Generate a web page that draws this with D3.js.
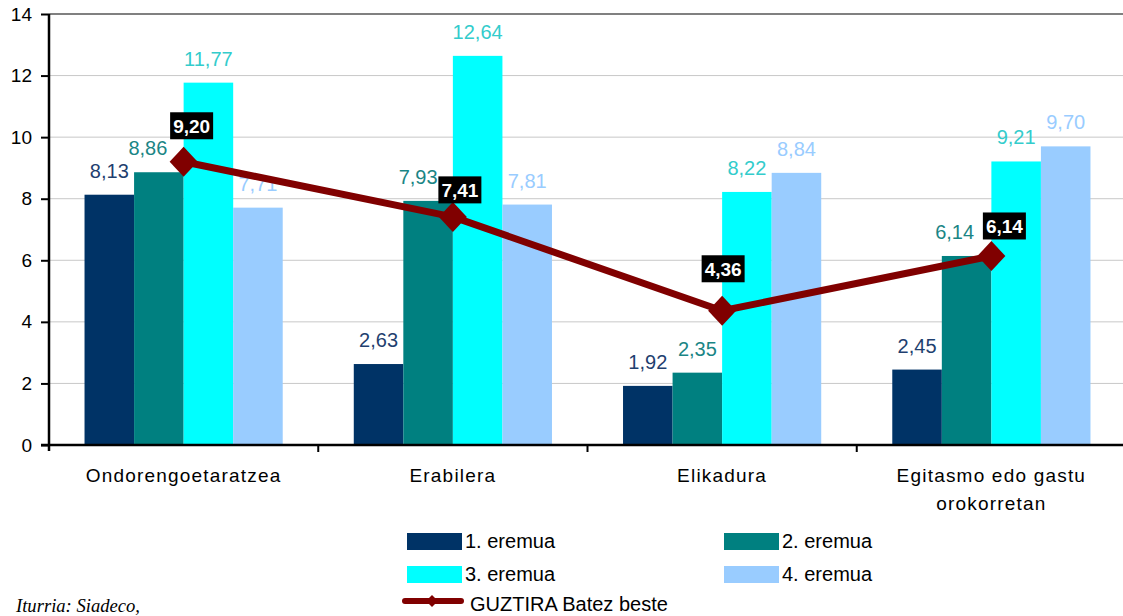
<!DOCTYPE html>
<html><head><meta charset="utf-8">
<script src="https://cdn.jsdelivr.net/npm/d3@7"></script>
<style>body{margin:0;background:#fff}svg{display:block}</style>
</head><body>
<svg id="c" width="1123" height="616"></svg>
<script>
const categories = [["Ondorengoetaratzea"], ["Erabilera"], ["Elikadura"], ["Egitasmo edo gastu", "orokorretan"]];
const seriesNames = ["1. eremua", "2. eremua", "3. eremua", "4. eremua"];
const series1 = [8.13, 2.63, 1.92, 2.45];
const series2 = [8.86, 7.93, 2.35, 6.14];
const series3 = [11.77, 12.64, 8.22, 9.21];
const series4 = [7.71, 7.81, 8.84, 9.70];
const total = [9.20, 7.41, 4.36, 6.14];
const totalName = "GUZTIRA Batez beste";
const yTicks = [0, 2, 4, 6, 8, 10, 12, 14];
const source = "Iturria: Siadeco,";

// layout tweaks for labels (pixels), as placed in the original chart
const totalLabelShift = [[8, -36], [7, -27], [1, -42], [13, -30]];
const series2LabelDx = [-11, -10, 0, -12];

const barColors = ["#003366", "#008080", "#00FFFF", "#99CCFF"];
const labelColors = ["#1F3F6F", "#1A8585", "#33CCCC", "#99CCFF"];
const lineColor = "#800000";
const allSeries = [series1, series2, series3, series4];

const svg = d3.select("#c");
const font = "Liberation Sans, Arial, sans-serif";
const L = 49, R = 1126, T = 14, B = 445;
const idx = d3.range(categories.length);
const x = d3.scaleBand().domain(idx).range([L, R]).paddingInner(0).paddingOuter(0);
const y = d3.scaleLinear().domain([0, 14]).range([B, T]);
const inner = d3.scaleBand().domain(d3.range(4)).range([0, x.bandwidth()]).paddingOuter(0.717).paddingInner(0);

// gridlines
svg.append("g").selectAll("line").data(yTicks.filter(t => t > 0)).join("line")
  .attr("x1", L).attr("x2", 1123).attr("y1", d => y(d)).attr("y2", d => y(d))
  .attr("stroke", d => d === 14 ? "#808080" : "#c8c8c8")
  .attr("stroke-width", d => d === 14 ? 2 : 1);

// bars
allSeries.forEach((s, si) => {
  svg.append("g").selectAll("rect").data(s).join("rect")
    .attr("x", (d, i) => x(i) + inner(si))
    .attr("width", inner.bandwidth())
    .attr("y", d => y(d))
    .attr("height", d => B - y(d))
    .attr("fill", barColors[si]);
});
// bar labels
allSeries.forEach((s, si) => {
  svg.append("g").selectAll("text").data(s).join("text")
    .attr("x", (d, i) => x(i) + inner(si) + inner.bandwidth() / 2 + (si === 1 ? series2LabelDx[i] : 0))
    .attr("y", d => y(d) - 17)
    .attr("text-anchor", "middle")
    .attr("font-family", font).attr("font-size", 20)
    .attr("fill", labelColors[si])
    .text(d => d.toFixed(2).replace(".", ","));
});

// axes
const yAxis = d3.axisLeft(y).tickValues(yTicks).tickSize(8).tickPadding(9).tickFormat(d => d);
const gy = svg.append("g").attr("transform", `translate(${L},0)`).call(yAxis);
gy.select(".domain").attr("stroke", "#000").attr("stroke-width", 2.5).attr("d", `M0,${T}V${B + 6}`);
gy.selectAll(".tick line").attr("stroke", "#000").attr("stroke-width", 2);
gy.selectAll(".tick text").attr("font-family", font).attr("font-size", 19).attr("fill", "#000");

svg.append("line").attr("x1", L - 8).attr("x2", 1123).attr("y1", B).attr("y2", B)
  .attr("stroke", "#000").attr("stroke-width", 2.5);
svg.append("g").selectAll("line").data(idx.slice(1)).join("line")
  .attr("x1", d => x(d)).attr("x2", d => x(d)).attr("y1", B).attr("y2", B + 7)
  .attr("stroke", "#000").attr("stroke-width", 2);

// category labels
svg.append("g").selectAll("text").data(categories).join("text")
  .attr("x", (d, i) => x(i) + x.bandwidth() / 2)
  .attr("y", 482)
  .attr("text-anchor", "middle")
  .attr("font-family", font).attr("font-size", 19).attr("letter-spacing", 1.2).attr("fill", "#000")
  .each(function (d) {
    d3.select(this).selectAll("tspan").data(d).join("tspan")
      .attr("x", d3.select(this).attr("x"))
      .attr("dy", (t, j) => j === 0 ? 0 : 28)
      .text(t => t);
  });

// line
const cx = i => x(i) + x.bandwidth() / 2;
const line = d3.line().x((d, i) => cx(i)).y(d => y(d));
svg.append("path").datum(total).attr("d", line)
  .attr("fill", "none").attr("stroke", lineColor).attr("stroke-width", 7).attr("stroke-linejoin", "round");
svg.append("g").selectAll("path").data(total).join("path")
  .attr("transform", (d, i) => `translate(${cx(i)},${y(d)})`)
  .attr("d", "M0,-15L14,0L0,15L-14,0Z")
  .attr("fill", lineColor);
// line labels
const lg = svg.append("g").selectAll("g").data(total).join("g")
  .attr("transform", (d, i) => `translate(${cx(i) + totalLabelShift[i][0]},${y(d) + totalLabelShift[i][1]})`);
lg.append("rect").attr("x", -21.5).attr("y", -13.5).attr("width", 43).attr("height", 27).attr("fill", "#000");
lg.append("text").attr("text-anchor", "middle").attr("y", 7)
  .attr("font-family", font).attr("font-size", 19).attr("font-weight", "bold").attr("fill", "#fff")
  .text(d => d.toFixed(2).replace(".", ","));

// legend
const legItems = seriesNames.map((n, i) => ({ n, i }));
const lgd = svg.append("g").selectAll("g").data(legItems).join("g")
  .attr("transform", d => `translate(${d.i % 2 === 0 ? 407 : 724},${d.i < 2 ? 533 : 566})`);
lgd.append("rect").attr("width", 55).attr("height", 17).attr("fill", d => barColors[d.i]);
lgd.append("text").attr("x", 58).attr("y", 15)
  .attr("font-family", font).attr("font-size", 20).attr("fill", "#000").text(d => d.n);
const lt = svg.append("g").attr("transform", "translate(403,601)");
lt.append("line").attr("x1", 2).attr("x2", 58).attr("stroke", lineColor).attr("stroke-width", 6).attr("stroke-linecap", "round");
lt.append("path").attr("d", "M29,-6L35,0L29,6L23,0Z").attr("fill", lineColor);
lt.append("text").attr("x", 67).attr("y", 10).attr("font-family", font).attr("font-size", 20).attr("fill", "#000").text(totalName);

svg.append("text").attr("x", 16).attr("y", 612)
  .attr("font-family", "Liberation Serif, Times New Roman, serif").attr("font-style", "italic")
  .attr("font-size", 19).attr("fill", "#000")
  .attr("textLength", 124).attr("lengthAdjust", "spacingAndGlyphs").text(source);
</script>
</body></html>
